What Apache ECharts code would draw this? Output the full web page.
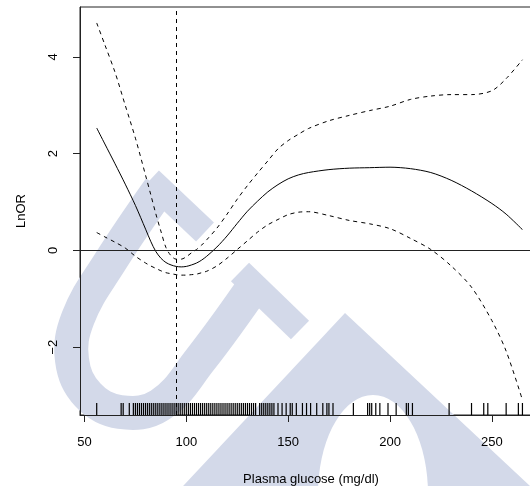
<!DOCTYPE html>
<html>
<head>
<meta charset="utf-8">
<script src="https://cdn.jsdelivr.net/npm/echarts@6/dist/echarts.min.js"></script>
<style>
html, body { margin: 0; padding: 0; background: #fff; }
#main { width: 530px; height: 486px; }
</style>
</head>
<body>
<div id="main"></div>
<script>
// values
const glucose = [56, 60, 65, 70, 75, 80, 82.5, 85, 87.5, 90, 92.5, 95, 97.5, 100, 102.5, 105, 107.5, 110, 115, 120, 125, 130, 135, 140, 145, 150, 155, 160, 170, 180, 190, 200, 210, 220, 230, 240, 250, 257, 265];
const lnOR    = [2.53, 2.20, 1.79, 1.37, 0.93, 0.44, 0.19, -0.02, -0.16, -0.25, -0.30, -0.33, -0.34, -0.33, -0.30, -0.26, -0.20, -0.12, 0.07, 0.30, 0.56, 0.81, 1.02, 1.21, 1.36, 1.48, 1.56, 1.61, 1.67, 1.70, 1.71, 1.72, 1.69, 1.61, 1.45, 1.23, 0.97, 0.75, 0.43];
const upperCI = [4.70, 4.25, 3.68, 3.00, 2.32, 1.55, 1.16, 0.76, 0.40, 0.06, -0.11, -0.18, -0.18, -0.13, -0.05, 0.02, 0.11, 0.22, 0.46, 0.75, 1.06, 1.34, 1.60, 1.85, 2.10, 2.27, 2.40, 2.52, 2.68, 2.79, 2.89, 2.98, 3.12, 3.19, 3.22, 3.22, 3.30, 3.55, 3.94];
const lowerCI = [0.37, 0.28, 0.17, 0.05, -0.12, -0.26, -0.32, -0.37, -0.42, -0.46, -0.48, -0.50, -0.51, -0.51, -0.50, -0.49, -0.46, -0.43, -0.32, -0.16, 0.02, 0.20, 0.38, 0.53, 0.64, 0.74, 0.79, 0.80, 0.72, 0.62, 0.55, 0.45, 0.25, 0.02, -0.32, -0.76, -1.45, -2.08, -3.09];
const rugValues = [56, 68, 69, 72,
  74, 75, 76, 77, 78, 79, 80, 81, 82, 83, 84, 85, 86, 87, 88, 89, 90, 91, 92, 93, 94, 95, 96, 97, 98, 99,
  100, 101, 102, 103, 104, 105, 106, 107, 108, 109, 110, 111, 112, 113, 114, 115, 116, 117, 118, 119, 120,
  121, 122, 123, 124, 125, 126, 127, 128, 129, 130, 131, 132, 133, 134, 136, 137, 138, 139, 140, 141, 142, 143,
  145, 147, 149, 151, 152, 154, 157, 159, 161, 164, 167, 169, 170, 172, 182, 189, 190, 191, 193, 195, 199,
  203, 208, 209, 211, 229, 240, 246, 248, 257, 263, 265];
const cutoff = 95;
const xTicks = [50, 100, 150, 200, 250];
const yTicks = [-2, 0, 2, 4];
const xMin = 47.8, xMax = 274.6;
const yMin = -3.40, yMax = 5.03;

const chart = echarts.init(document.getElementById('main'));
const font = 'Liberation Sans, Arial, sans-serif';
const ink = '#000';
const wm = '#d3d9e9';

function curve(ys) {
  return glucose.map((g, i) => [g, ys[i]]);
}

const option = {
  animation: false,
  backgroundColor: '#fff',
  // faint watermark behind the plot
  graphic: [
    { type: 'polyline', z: 0, silent: true,
      shape: { points: [[160, 188], [110, 262], [78, 318], [72, 360], [88, 395], [120, 412], [160, 405], [200, 360], [258, 280]], smooth: 0.4 },
      style: { stroke: wm, lineWidth: 34, fill: null } },
    { type: 'polyline', z: 0, silent: true,
      shape: { points: [[150, 180], [205, 232]] },
      style: { stroke: wm, lineWidth: 26, fill: null } },
    { type: 'polyline', z: 0, silent: true,
      shape: { points: [[240, 272], [300, 330]] },
      style: { stroke: wm, lineWidth: 26, fill: null } },
    { type: 'polygon', z: 0, silent: true,
      shape: { points: [[345, 313], [545, 500], [170, 500]] },
      style: { fill: wm } },
    { type: 'ellipse', z: 0, silent: true,
      shape: { cx: 373, cy: 494, rx: 55, ry: 99 },
      style: { fill: '#fff' } }
  ],
  grid: {
    left: 80, top: 7, width: 462, height: 408,
    outerBoundsMode: 'none',
    show: true, borderColor: '#222', borderWidth: 1, backgroundColor: 'transparent'
  },
  xAxis: {
    type: 'value', min: xMin, max: xMax,
    name: 'Plasma glucose (mg/dl)', nameLocation: 'middle', nameGap: 58,
    nameTextStyle: { fontFamily: font, fontSize: 13, color: ink },
    axisLine: { show: true, onZero: false, lineStyle: { color: '#222', width: 1 } },
    axisTick: { show: true, length: 7, customValues: xTicks, lineStyle: { color: '#222' } },
    axisLabel: { customValues: xTicks, margin: 21, fontFamily: font, fontSize: 13, color: ink },
    splitLine: { show: false }
  },
  yAxis: {
    type: 'value', min: yMin, max: yMax,
    name: 'LnOR', nameLocation: 'middle', nameGap: 52, nameRotate: 90,
    nameTextStyle: { fontFamily: font, fontSize: 13, color: ink },
    axisLine: { show: true, onZero: false, lineStyle: { color: '#222', width: 1 } },
    axisTick: { show: true, length: 7, customValues: yTicks, lineStyle: { color: '#222' } },
    axisLabel: {
      customValues: yTicks, rotate: 90, margin: 20, fontFamily: font, fontSize: 13, color: ink,
      formatter: v => String(v).replace('-', '\u2212')
    },
    splitLine: { show: false }
  },
  series: [
    {
      name: 'LnOR', type: 'line', data: curve(lnOR), smooth: 0.3, symbol: 'none',
      lineStyle: { color: ink, width: 1 }, z: 3,
      markLine: {
        silent: true, symbol: 'none', label: { show: false },
        lineStyle: { color: ink, width: 1 },
        data: [
          { yAxis: 0, lineStyle: { type: 'solid', color: '#222' } },
          { xAxis: cutoff, lineStyle: { type: [4, 4] } }
        ]
      }
    },
    {
      name: 'upper', type: 'line', data: curve(upperCI), smooth: 0.3, symbol: 'none',
      lineStyle: { color: ink, width: 1, type: [4, 4] }, z: 3
    },
    {
      name: 'lower', type: 'line', data: curve(lowerCI), smooth: 0.3, symbol: 'none',
      lineStyle: { color: ink, width: 1, type: [4, 4] }, z: 3
    },
    {
      name: 'rug', type: 'custom', z: 3,
      data: rugValues.map(v => [v, yMin]),
      encode: { x: 0, y: 1 },
      renderItem: (params, api) => {
        const p = api.coord([api.value(0), yMin]);
        return {
          type: 'line',
          shape: { x1: p[0], y1: p[1], x2: p[0], y2: p[1] - 12 },
          style: { stroke: ink, lineWidth: 1.2 }
        };
      }
    }
  ]
};

chart.setOption(option);
window.addEventListener('resize', chart.resize);
</script>
</body>
</html>
